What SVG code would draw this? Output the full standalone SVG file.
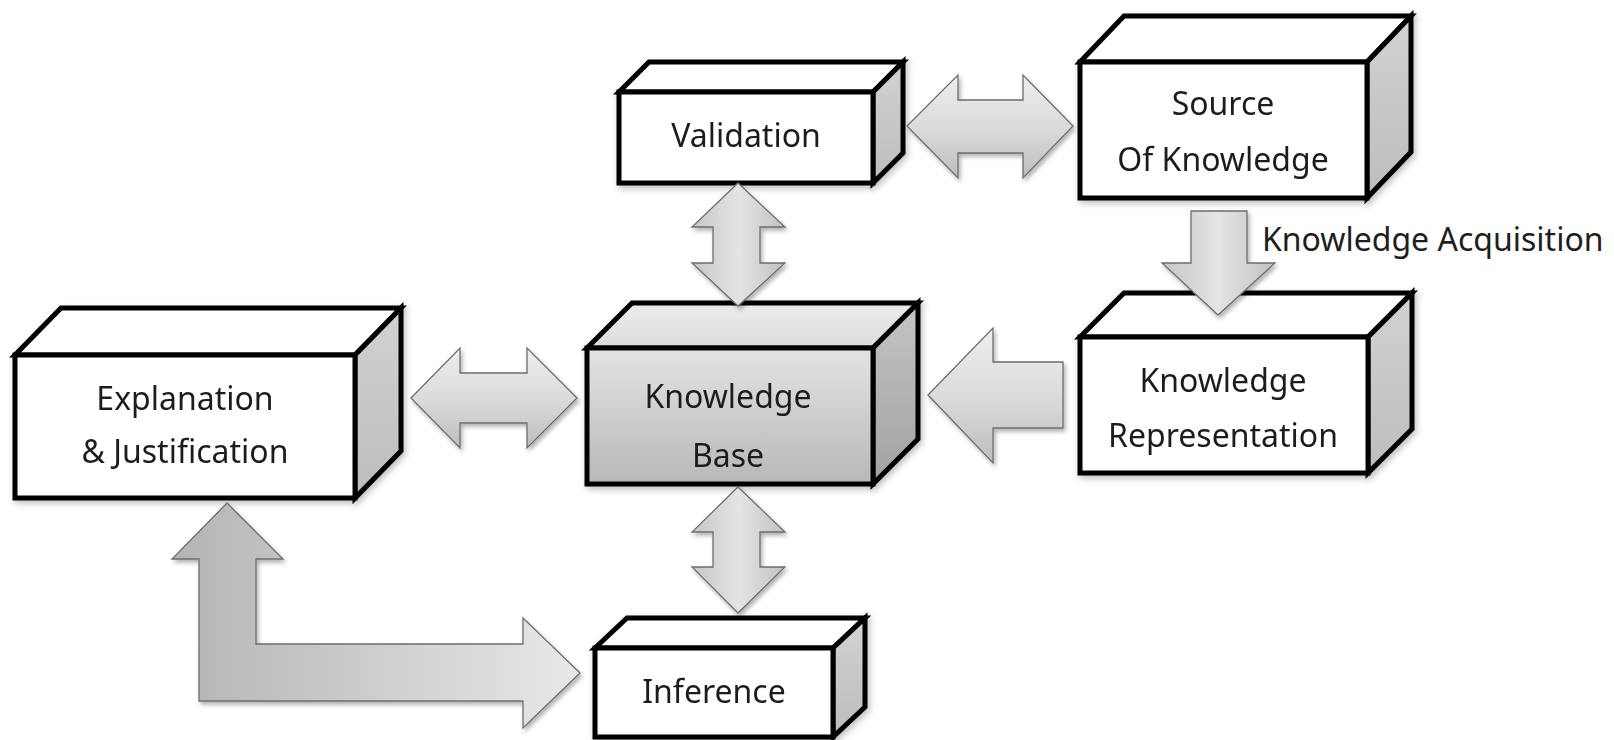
<svg xmlns="http://www.w3.org/2000/svg" width="1614" height="740" viewBox="0 0 1614 740">
<defs>
<style>
.face{stroke:#000;stroke-width:5;stroke-linejoin:miter;}
.front{fill:#fff;}
.top{fill:#fff;}
.side{fill:url(#sideGrad);}
.lbl{font-family:"Noto Sans","DejaVu Sans",sans-serif;font-size:32px;fill:#1e1e1e;text-anchor:middle;}
.arrow{stroke:#6e6e6e;stroke-width:1.3;stroke-linejoin:miter;filter:url(#shadow);}
.ah{fill:url(#gradV);}
.av{fill:url(#gradH);}
</style>
<linearGradient id="sideGrad" x1="0" y1="0" x2="0" y2="1">
<stop offset="0" stop-color="#d2d2d2"/>
<stop offset="1" stop-color="#bdbdbd"/>
</linearGradient>
<linearGradient id="kbFront" x1="0" y1="0" x2="0" y2="1">
<stop offset="0" stop-color="#e4e4e4"/>
<stop offset="1" stop-color="#b8b8b8"/>
</linearGradient>
<linearGradient id="kbTop" x1="0" y1="0" x2="0" y2="1">
<stop offset="0" stop-color="#ececec"/>
<stop offset="1" stop-color="#dcdcdc"/>
</linearGradient>
<linearGradient id="kbSide" x1="0" y1="0" x2="0" y2="1">
<stop offset="0" stop-color="#c4c4c4"/>
<stop offset="1" stop-color="#a2a2a2"/>
</linearGradient>
<linearGradient id="gradV" x1="0" y1="0" x2="0" y2="1">
<stop offset="0" stop-color="#ededed"/>
<stop offset="0.5" stop-color="#dcdcdc"/>
<stop offset="1" stop-color="#bdbdbd"/>
</linearGradient>
<linearGradient id="gradH" x1="0" y1="0" x2="1" y2="0">
<stop offset="0" stop-color="#c6c6c6"/>
<stop offset="0.5" stop-color="#e4e4e4"/>
<stop offset="1" stop-color="#c2c2c2"/>
</linearGradient>
<linearGradient id="gradL" gradientUnits="userSpaceOnUse" x1="172" y1="0" x2="580" y2="0">
<stop offset="0" stop-color="#b4b4b4"/>
<stop offset="1" stop-color="#e8e8e8"/>
</linearGradient>
<filter id="shadow" x="-10%" y="-10%" width="130%" height="130%">
<feDropShadow dx="2" dy="3" stdDeviation="2" flood-color="#000" flood-opacity="0.3"/>
</filter>
<filter id="boxShadow" x="-10%" y="-10%" width="130%" height="130%">
<feDropShadow dx="2" dy="3" stdDeviation="3" flood-color="#000" flood-opacity="0.25"/>
</filter>
</defs>
<rect width="1614" height="740" fill="#fff"/>

<g id="validation" filter="url(#boxShadow)">
<polygon class="face top" points="619,92 649,62 903,62 873,92"/>
<polygon class="face side" points="873,92 903,62 903,153 873,183"/>
<rect class="face front" x="619" y="92" width="254" height="91"/>
<text class="lbl" x="746" y="147">Validation</text>
</g>

<g id="source" filter="url(#boxShadow)">
<polygon class="face top" points="1080,62 1124,16 1411,16 1367,62"/>
<polygon class="face side" points="1367,62 1411,16 1411,152 1367,198"/>
<rect class="face front" x="1080" y="62" width="287" height="136"/>
<text class="lbl" x="1223" y="115">Source</text>
<text class="lbl" x="1223" y="171">Of Knowledge</text>
</g>

<g id="explanation" filter="url(#boxShadow)">
<polygon class="face top" points="15,355 61,308 401,308 355,355"/>
<polygon class="face side" points="355,355 401,308 401,451 355,498"/>
<rect class="face front" x="15" y="355" width="340" height="143"/>
<text class="lbl" x="185" y="410">Explanation</text>
<text class="lbl" x="185" y="463">&amp; Justification</text>
</g>

<g id="knowledge-base" filter="url(#boxShadow)">
<polygon class="face" fill="url(#kbTop)" points="587,348 632,303 918,303 873,348"/>
<polygon class="face" fill="url(#kbSide)" points="873,348 918,303 918,439 873,484"/>
<rect class="face" fill="url(#kbFront)" x="587" y="348" width="286" height="136"/>
<text class="lbl" x="728" y="408">Knowledge</text>
<text class="lbl" x="728" y="467">Base</text>
</g>

<g id="knowledge-representation" filter="url(#boxShadow)">
<polygon class="face top" points="1080,337 1124,293 1412,293 1368,337"/>
<polygon class="face side" points="1368,337 1412,293 1412,429 1368,473"/>
<rect class="face front" x="1080" y="337" width="288" height="136"/>
<text class="lbl" x="1223" y="392">Knowledge</text>
<text class="lbl" x="1223" y="447">Representation</text>
</g>

<g id="inference" filter="url(#boxShadow)">
<polygon class="face top" points="595,648 627,618 865,618 833,648"/>
<polygon class="face side" points="833,648 865,618 865,707 833,737"/>
<rect class="face front" x="595" y="648" width="238" height="89"/>
<text class="lbl" x="714" y="703">Inference</text>
</g>

<g id="connectors">
<polygon class="arrow ah" points="907,126 958,75 958,100 1023,100 1023,75 1073,126 1023,178 1023,153 958,153 958,178"/>
<polygon class="arrow av" points="738,183 785,227 760,227 760,263 785,263 738,306 692,263 713,263 713,227 692,227"/>
<polygon class="arrow av" points="1191,211 1247,211 1247,263 1275,263 1218,315 1162,263 1191,263"/>
<polygon class="arrow ah" points="928,395 993,328 993,362 1063,362 1063,428 993,428 993,463"/>
<polygon class="arrow ah" points="411,398 460,348 460,373 527,373 527,348 577,398 527,448 527,423 460,423 460,448"/>
<polygon class="arrow av" points="738,487 785,532 760,532 760,567 785,567 738,613 692,567 713,567 713,532 692,532"/>
<polygon class="arrow" fill="url(#gradL)" points="227,503 283,559 256,559 256,644 523,644 523,618 580,673 523,728 523,701 199,701 199,559 172,559"/>
<text x="1262" y="251" style="font-family:'Noto Sans','DejaVu Sans',sans-serif;font-size:32px;fill:#1e1e1e;">Knowledge Acquisition</text>
</g>
</svg>
